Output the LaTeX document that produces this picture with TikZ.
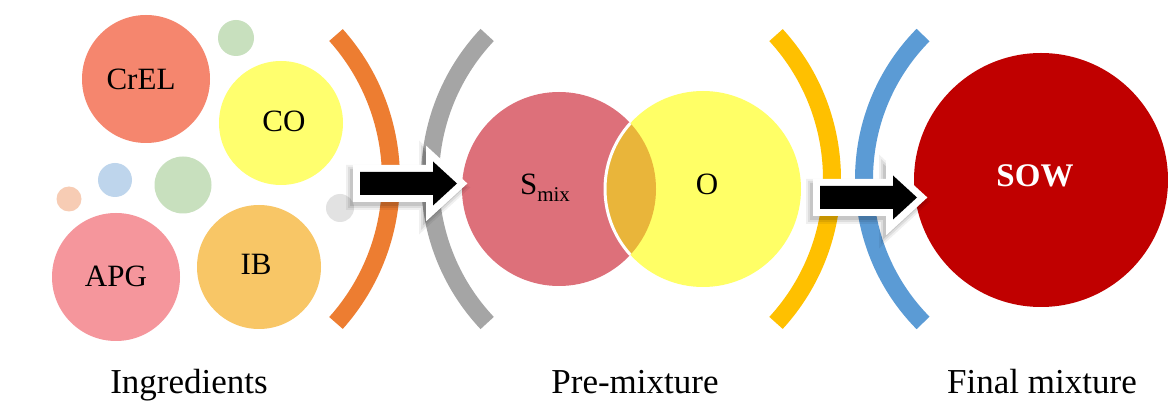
\documentclass[tikz,border=0pt]{standalone}
\usepackage{fontspec}
\setmainfont{Liberation Serif}
\definecolor{cCrEL}{RGB}{245,134,110}
\definecolor{cCO}{RGB}{255,255,110}
\definecolor{cAPG}{RGB}{245,150,156}
\definecolor{cIB}{RGB}{248,198,102}
\definecolor{cGreen}{RGB}{200,224,190}
\definecolor{cBlue}{RGB}{190,213,236}
\definecolor{cOrSm}{RGB}{247,204,180}
\definecolor{cGrSm}{RGB}{226,226,226}
\definecolor{aOrange}{RGB}{237,125,49}
\definecolor{aGray}{RGB}{165,165,165}
\definecolor{aGold}{RGB}{255,192,0}
\definecolor{aBlue}{RGB}{91,155,213}
\definecolor{cSmix}{RGB}{221,112,122}
\definecolor{cO}{RGB}{255,255,102}
\definecolor{cOver}{RGB}{233,181,58}
\definecolor{cSOW}{RGB}{192,0,0}
\tikzset{
  blockarrow/.pic={
    \foreach \lw/\op in {22/0.06,18/0.08,14/0.1}{
      \draw[black, opacity=\op, line width=\lw pt, line join=miter, shift={(-3,4)}]
        (0,-11.5) -- (73,-11.5) -- (73,-22) -- (97,0) -- (73,22) -- (73,11.5) -- (0,11.5) -- cycle;
    }
    \draw[white, line width=14pt, line join=miter, fill=white]
      (0,-11.5) -- (73,-11.5) -- (73,-22) -- (97,0) -- (73,22) -- (73,11.5) -- (0,11.5) -- cycle;
    \fill[black]
      (0,-11.5) -- (73,-11.5) -- (73,-22) -- (97,0) -- (73,22) -- (73,11.5) -- (0,11.5) -- cycle;
  }
}
\begin{document}
\begin{tikzpicture}[x=1pt,y=-1pt,
  blob/.style={circle, inner sep=0pt, outer sep=0pt},
  lbl/.style={font=\fontsize{31}{36}\selectfont, inner sep=0pt, anchor=base},
  captext/.style={font=\fontsize{35}{40}\selectfont, anchor=base, inner sep=0pt},
  band/.style={line width=18pt, line cap=butt},
]
\useasboundingbox (0,0) rectangle (1168,403);
\fill[white] (0,0) rectangle (1168,403);

% faint small circles
\node[blob, fill=cGreen, minimum size=36pt] (g1) at (236,38) {};
\node[blob, fill=cBlue, minimum size=34pt] (b1) at (115,180) {};
\node[blob, fill=cGreen, minimum size=57pt] (g2) at (183,185) {};
\node[blob, fill=cOrSm, minimum size=25pt] (o1) at (69,199) {};
\node[blob, fill=cGrSm, minimum size=28pt] (s1) at (340,208) {};

% ingredient circles
\node[blob, fill=cCrEL, minimum size=128pt] (crel) at (146,79) {};
\node[blob, fill=cCO, minimum size=124pt] (co) at (281,123) {};
\node[blob, fill=cAPG, minimum size=128pt] (apg) at (116,277) {};
\node[blob, fill=cIB, minimum size=124pt] (ib) at (259,267) {};
\node[lbl] (tcrel) at (141,90) {CrEL};
\node[lbl] (tco) at (284,132) {CO};
\node[lbl] (tapg) at (116,287) {APG};
\node[lbl] (tib) at (256,275) {IB};

% arcs
\draw[band, aOrange] ([shift={(-41.8:216)}]175,179) arc[start angle=-41.8, end angle=41.8, radius=216];
\draw[band, aGray] ([shift={(136.7:210)}]640,179) arc[start angle=136.7, end angle=223.3, radius=210];
\draw[band, aGold] ([shift={(-42.5:213)}]619,179) arc[start angle=-42.5, end angle=42.5, radius=213];
\draw[band, aBlue] ([shift={(135.4:205)}]1069,179) arc[start angle=135.4, end angle=224.6, radius=205];

% pre-mixture
\node[blob, fill=cSmix, minimum size=194pt] (smix) at (559,189) {};
\node[blob, fill=cO, minimum size=196pt] (o) at (703,189) {};
\begin{scope}
  \clip (559,189) circle[radius=97];
  \draw[fill=cOver, draw=white, line width=3pt] (703,189) circle[radius=98];
\end{scope}
\node[lbl] (tsmix) at (545,195) {S\raisebox{-7pt}{\fontsize{21}{24}\selectfont mix}};
\node[lbl] (to) at (707,195) {O};

% final mixture
\node[blob, fill=cSOW, minimum size=254pt] (sow) at (1041,180) {};
\node[lbl, font=\fontsize{33}{38}\selectfont\bfseries, text=white] (tsow) at (1035,187) {SOW};

% arrows
\pic (arr1) at (360,183.5) {blockarrow};
\pic (arr2) at (820,197.5) {blockarrow};

% captions
\node[captext] (cap1) at (189,394) {Ingredients};
\node[captext] (cap2) at (635,394) {Pre-mixture};
\node[captext] (cap3) at (1042,394) {Final mixture};
\end{tikzpicture}
\end{document}
